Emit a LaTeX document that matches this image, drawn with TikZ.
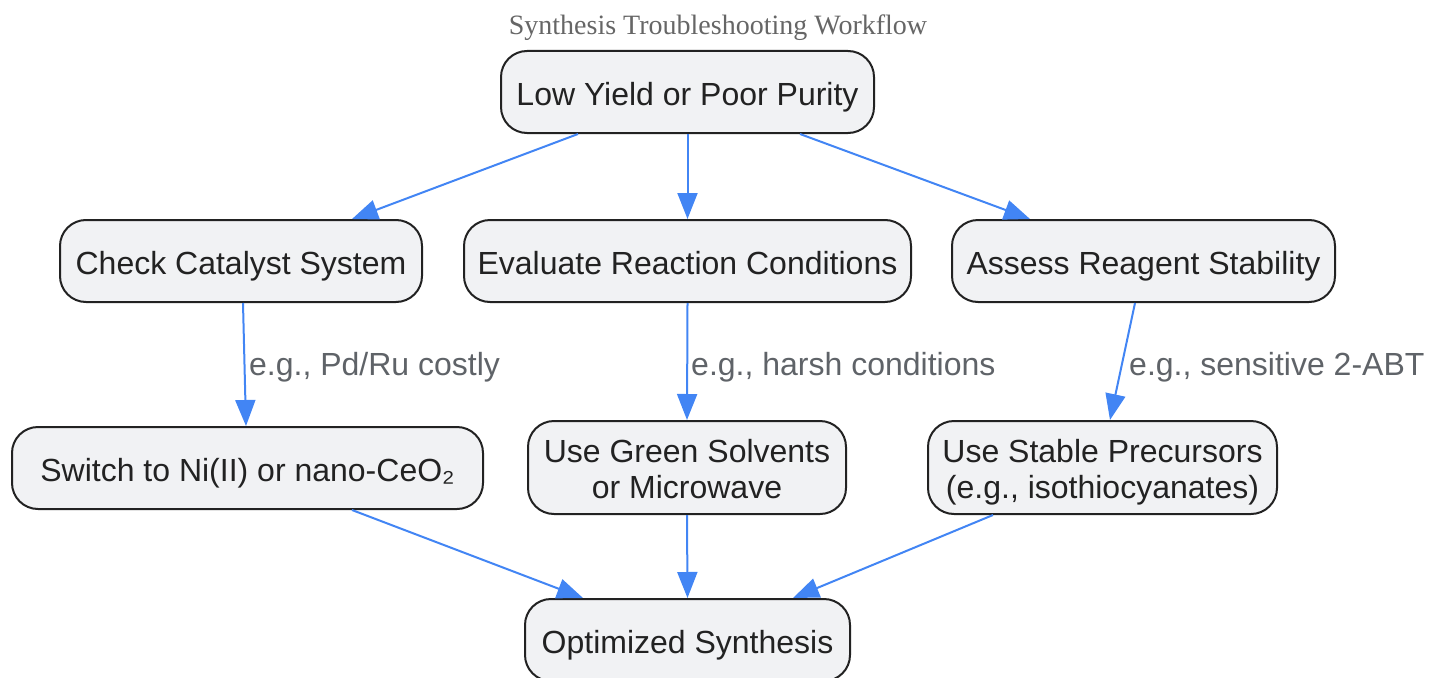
\documentclass[tikz,border=0pt]{standalone}
\usepackage{fontspec}
\setmainfont{Liberation Sans}
\newfontfamily\titlefont{Liberation Serif}
\usetikzlibrary{arrows.meta,calc}
\definecolor{boxfill}{HTML}{F1F2F4}
\definecolor{boxline}{HTML}{222222}
\definecolor{edgeblue}{HTML}{4285F4}
\definecolor{labgray}{HTML}{5F6368}
\definecolor{titlegray}{HTML}{666666}
\tikzset{
  box/.style={draw=boxline, fill=boxfill, line width=2pt, rounded corners=26pt,
    align=center, inner sep=0pt, text=boxline,
    font=\fontsize{32}{36}\selectfont},
  onebox/.style={box, text height=29pt, text depth=3pt},
  twobox/.style={box, text height=65pt, text depth=4pt},
  edge/.style={draw=edgeblue, line width=2pt, -{Triangle[length=26pt,width=20pt]}},
  elabel/.style={anchor=west, text=labgray, inner sep=0pt, font=\fontsize{32}{38}\selectfont},
}
\begin{document}
\begin{tikzpicture}[x=1pt,y=-1pt]
\useasboundingbox (0,0) rectangle (1431,677);
\node[text=titlegray, font=\titlefont\fontsize{28}{32}\selectfont] (title) at (718,28) {Synthesis Troubleshooting Workflow};
\node[onebox, minimum width=373pt, minimum height=82pt] (top) at (687.5,92) {Low Yield or Poor Purity};
\node[onebox, minimum width=362pt, minimum height=82pt] (cat) at (241,261) {Check Catalyst System};
\node[onebox, minimum width=447pt, minimum height=82pt] (eval) at (687.5,261) {Evaluate Reaction Conditions};
\node[onebox, minimum width=383pt, minimum height=82pt] (assess) at (1143.5,261) {Assess Reagent Stability};
\node[onebox, minimum width=471pt, minimum height=82pt] (switch) at (247.5,468) {Switch to Ni(II) or nano-CeO₂};
\node[twobox, minimum width=318pt, minimum height=93pt] (green) at (687,467.5) {Use Green Solvents\\or Microwave};
\node[twobox, minimum width=349pt, minimum height=93pt] (stable) at (1102.5,467.5) {Use Stable Precursors\\(e.g., isothiocyanates)};
\node[onebox, minimum width=325pt, minimum height=82pt] (opt) at (687.5,640) {Optimized Synthesis};

\draw[edge] ($(top.south)+(-109.5,0)$) -- ($(cat.north)+(111,0)$);
\draw[edge] (top.south) -- (eval.north);
\draw[edge] ($(top.south)+(112.5,0)$) -- ($(assess.north)+(-113.5,0)$);
\draw[edge] ($(cat.south)+(2,0)$) -- ($(switch.north)+(-1.5,0)$);
\draw[edge] (eval.south) -- (green.north);
\draw[edge] ($(assess.south)+(-8.5,0)$) -- ($(stable.north)+(7.5,0)$);
\draw[edge] ($(switch.south)+(104.5,0)$) -- ($(opt.north)+(-104.5,0)$);
\draw[edge] (green.south) -- (opt.north);
\draw[edge] ($(stable.south)+(-109.5,0)$) -- ($(opt.north)+(105.5,0)$);

\node[elabel] (l1) at (249,367) {e.g., Pd/Ru costly};
\node[elabel] (l2) at (691,367) {e.g., harsh conditions};
\node[elabel] (l3) at (1129,367) {e.g., sensitive 2-ABT};
\end{tikzpicture}
\end{document}
